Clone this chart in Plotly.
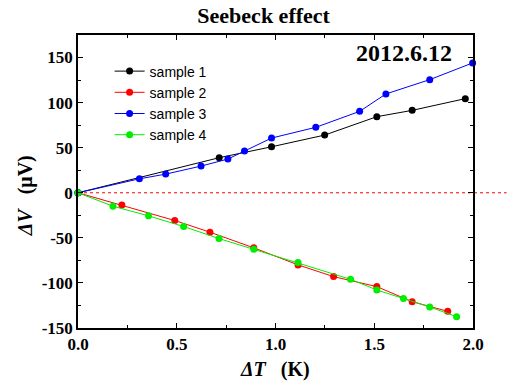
import plotly.graph_objects as go

s1_x = [0.0, 0.715, 0.98, 1.249, 1.513, 1.692, 1.961]
s1_y = [0.0, 38.9, 51.0, 64.0, 84.4, 91.4, 104.4]

s2_x = [0.0, 0.222, 0.49, 0.668, 0.89, 1.114, 1.294, 1.513, 1.692, 1.872]
s2_y = [0.0, -13.7, -30.8, -43.7, -61.1, -80.0, -93.0, -104.1, -120.8, -131.5]

s3_x = [0.0, 0.311, 0.444, 0.623, 0.759, 0.843, 0.98, 1.204, 1.426, 1.559, 1.781, 1.998]
s3_y = [0.0, 15.5, 20.7, 29.6, 37.4, 46.2, 60.7, 72.6, 90.3, 109.6, 125.5, 144.0]

s4_x = [0.0, 0.177, 0.357, 0.535, 0.714, 0.89, 1.114, 1.38, 1.513, 1.648, 1.781, 1.917]
s4_y = [0.0, -14.9, -25.6, -37.4, -50.8, -62.6, -77.4, -96.0, -107.8, -117.4, -126.7, -137.4]

y_ticks = [-150, -100, -50, 0, 50, 100, 150]
y_tick_labels = ["-150", "-100", "-50", "0", "50", "100", "150"]

names = ["sample 1", "sample 2", "sample 3", "sample 4"]
colors = ["#000000", "#ff0000", "#0000ff", "#00ee00"]

fig = go.Figure()
for nm, xs, ys, c in zip(names, [s1_x, s2_x, s3_x, s4_x], [s1_y, s2_y, s3_y, s4_y], colors):
    fig.add_trace(go.Scatter(x=xs, y=ys, mode="lines+markers", name=nm,
                             line=dict(color=c, width=1),
                             marker=dict(color=c, size=7), cliponaxis=False))

fig.add_shape(type="line", xref="paper", yref="y", x0=0, x1=1.085, y0=0, y1=0,
              line=dict(color="#ff0000", width=1, dash="dot"), layer="below")

serif = "Liberation Serif"
axis_common = dict(showline=True, linecolor="black", linewidth=1.5, mirror="ticks",
                   ticks="inside", ticklen=5, tickwidth=1, tickcolor="black",
                   showgrid=False, zeroline=False, automargin=False,
                   tickfont=dict(family=serif, size=17, color="black", weight="bold"))

fig.update_xaxes(range=[0, 2.0], dtick=0.5, tickformat=".1f",
                 minor=dict(ticks="inside", dtick=0.25, ticklen=3, tickcolor="black"),
                 **axis_common)
fig.update_yaxes(range=[-150, 175], tickvals=y_ticks, ticktext=y_tick_labels,
                 minor=dict(ticks="inside", dtick=25, ticklen=3, tickcolor="black"),
                 **axis_common)

sp = "\u00a0\u00a0\u00a0"
fig.update_layout(
    width=507, height=388,
    margin=dict(l=78, r=34, t=35, b=60),
    plot_bgcolor="white", paper_bgcolor="white",
    title=dict(text="<b>Seebeck effect</b>", x=0.52, xanchor="center", y=0.96, yanchor="middle",
               font=dict(family=serif, size=22, color="black")),
    font=dict(family=serif, color="black"),
    legend=dict(x=0.08, y=0.93, xanchor="left", yanchor="top", bgcolor="rgba(0,0,0,0)",
                font=dict(family="Liberation Sans", size=14, color="black"),
                tracegroupgap=0, itemwidth=30),
    annotations=[
        dict(text="<b>2012.6.12</b>", xref="paper", yref="paper", x=0.951, y=0.939,
             xanchor="right", yanchor="middle", showarrow=False,
             font=dict(family=serif, size=24, color="black")),
        dict(text="<b><i>ΔT</i>" + sp + "(K)</b>", xref="paper", yref="paper", x=0.499, y=-0.143,
             xanchor="center", yanchor="middle", showarrow=False,
             font=dict(family=serif, size=20, color="black")),
        dict(text="<b><i>ΔV</i>" + sp + "(μV)</b>", xref="paper", yref="paper", x=-0.134, y=0.45,
             xanchor="center", yanchor="middle", showarrow=False, textangle=-90,
             font=dict(family=serif, size=20, color="black")),
    ],
    showlegend=True,
)

fig.write_html("out.html", config={"displayModeBar": False},
               post_script="document.body.style.margin='0';")
